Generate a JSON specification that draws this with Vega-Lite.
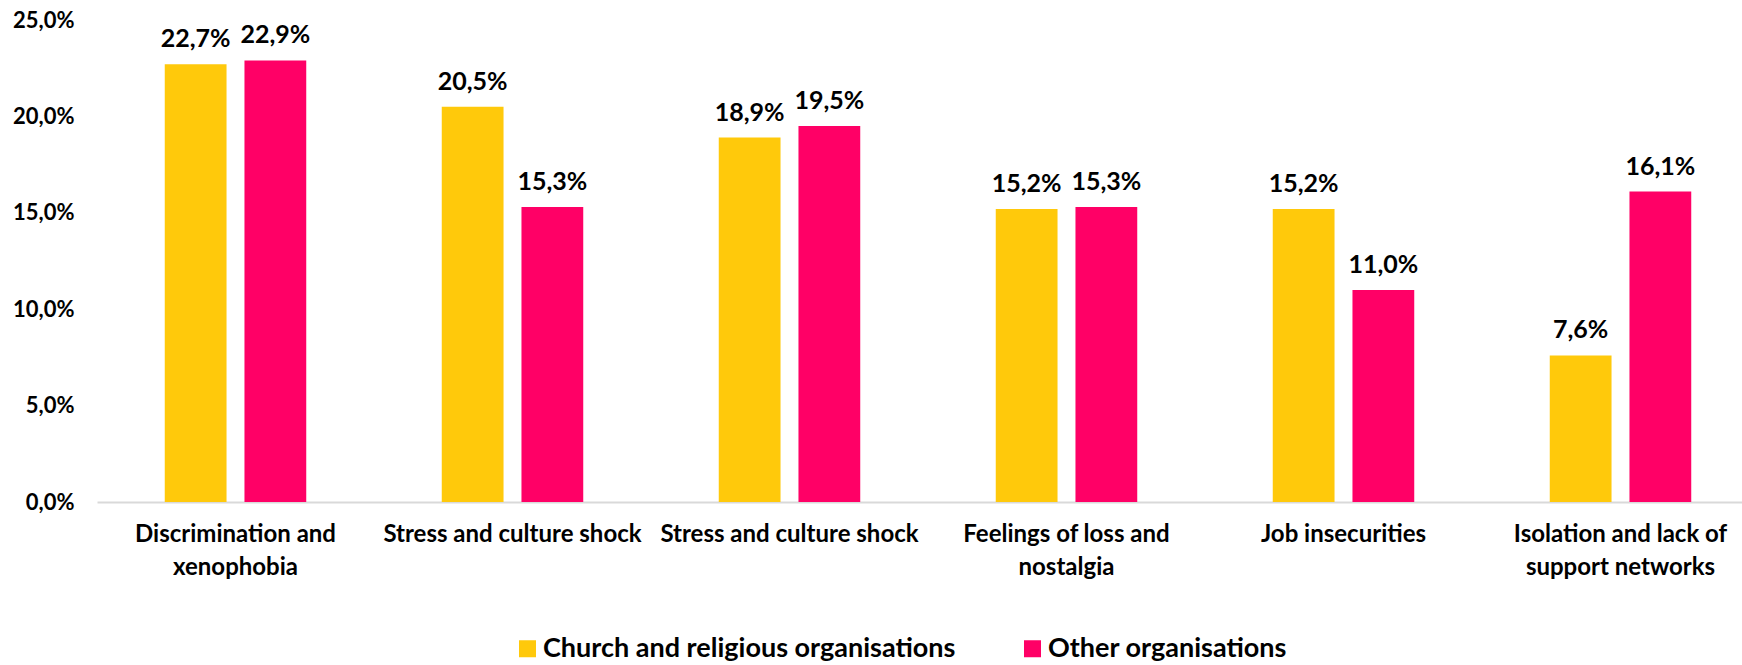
{
  "$schema": "https://vega.github.io/schema/vega-lite/v6.json",
  "width": 1645,
  "height": 482,
  "autosize": {"type": "none"},
  "padding": {"left": 97, "top": 20, "right": 0, "bottom": 163},
  "background": "white",
  "config": {
    "locale": {"number": {"decimal": ",", "thousands": ".", "grouping": [3], "currency": ["", " €"]}},
    "view": {"stroke": null},
    "font": "Lato"
  },
  "data": {
    "values": [
      {"category": "Discrimination and|xenophobia", "org": "Church and religious organisations", "value": 0.227},
      {"category": "Discrimination and|xenophobia", "org": "Other organisations", "value": 0.229},
      {"category": "Stress and culture shock", "org": "Church and religious organisations", "value": 0.205},
      {"category": "Stress and culture shock", "org": "Other organisations", "value": 0.153},
      {"category": "Stress and culture shock|", "org": "Church and religious organisations", "value": 0.189},
      {"category": "Stress and culture shock|", "org": "Other organisations", "value": 0.195},
      {"category": "Feelings of loss and|nostalgia", "org": "Church and religious organisations", "value": 0.152},
      {"category": "Feelings of loss and|nostalgia", "org": "Other organisations", "value": 0.153},
      {"category": "Job insecurities", "org": "Church and religious organisations", "value": 0.152},
      {"category": "Job insecurities", "org": "Other organisations", "value": 0.110},
      {"category": "Isolation and lack of|support networks", "org": "Church and religious organisations", "value": 0.076},
      {"category": "Isolation and lack of|support networks", "org": "Other organisations", "value": 0.161}
    ]
  },
  "encoding": {
    "x": {
      "field": "category",
      "type": "nominal",
      "sort": null,
      "title": null,
      "scale": {"paddingInner": 0, "paddingOuter": 0, "range": [0, 1662]},
      "axis": {
        "labelAngle": 0,
        "labelExpr": "split(datum.label, '|')",
        "labelFont": "Lato",
        "labelFontSize": 24,
        "labelFontWeight": "bold",
        "labelColor": "#000000",
        "labelPadding": 20,
        "labelLineHeight": 33,
        "labelBaseline": "top",
        "labelLimit": 400,
        "ticks": false,
        "domainColor": "#d9d9d9",
        "domainWidth": 2
      }
    },
    "xOffset": {"field": "org", "type": "nominal", "scale": {"paddingInner": 0.225, "paddingOuter": 0.85}},
    "y": {
      "field": "value",
      "type": "quantitative",
      "title": null,
      "scale": {"domain": [0, 0.25], "nice": false},
      "axis": {
        "values": [0, 0.05, 0.1, 0.15, 0.2, 0.25],
        "format": ".1%",
        "grid": false,
        "domain": false,
        "ticks": false,
        "labelPadding": 23,
        "labelFont": "Lato",
        "labelFontSize": 22,
        "labelFontWeight": "bold",
        "labelColor": "#000000"
      }
    },
    "color": {
      "field": "org",
      "type": "nominal",
      "title": null,
      "scale": {"domain": ["Church and religious organisations", "Other organisations"], "range": ["#FFC90B", "#FF0066"]},
      "legend": {
        "orient": "none",
        "legendX": 417,
        "legendY": 615,
        "direction": "horizontal",
        "symbolType": "square",
        "symbolSize": 289,
        "symbolStrokeWidth": 0,
        "labelOffset": 2,
        "labelFont": "Lato",
        "labelFontSize": 27,
        "labelFontWeight": "bold",
        "labelColor": "#000000",
        "labelLimit": 700,
        "columnPadding": 63
      }
    }
  },
  "layer": [
    {"mark": {"type": "bar"}},
    {
      "mark": {"type": "text", "baseline": "bottom", "dy": -12, "font": "Lato", "fontSize": 25, "fontWeight": "bold", "color": "#000000"},
      "encoding": {
        "text": {"field": "value", "type": "quantitative", "format": ".1%"},
        "color": {"value": "#000000"}
      }
    }
  ]
}
